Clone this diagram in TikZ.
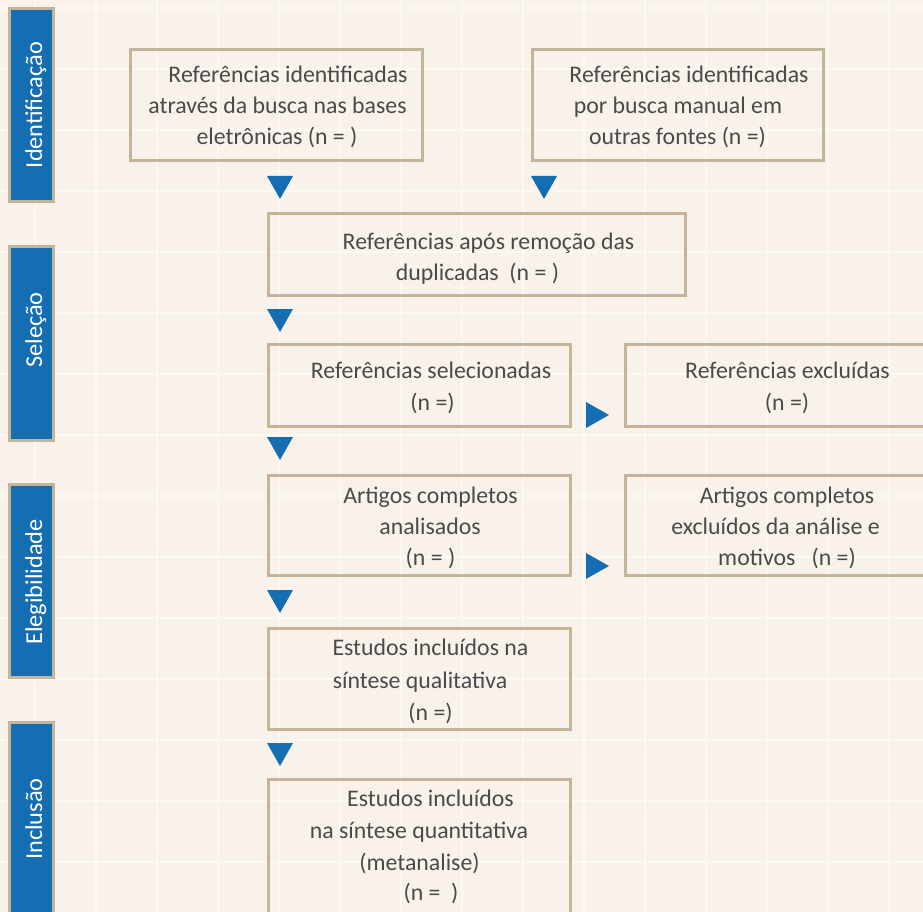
\documentclass[tikz,border=0pt]{standalone}
\usepackage{fontspec}
\setmainfont{Carlito}
\definecolor{bgc}{HTML}{F8F2EB}
\definecolor{gridc}{HTML}{FCF9F5}
\definecolor{tanc}{HTML}{C4B59A}
\definecolor{bluec}{HTML}{166EB2}
\definecolor{txtc}{HTML}{4A4A4A}
\tikzset{
  boxnode/.style={draw=tanc, line width=3pt, rectangle, inner sep=0pt},
  sidebar/.style={draw=tanc, fill=bluec, line width=3pt, rectangle, inner sep=0pt, minimum width=44pt},
  sidelabel/.style={anchor=base, rotate=90, inner sep=0pt, text=white, font=\fontsize{24.3}{28}\selectfont},
  line/.style={anchor=base, inner sep=0pt, text=txtc, font=\fontsize{23.8}{28}\selectfont},
  gridline/.style={draw=gridc, line width=2pt},
  tri/.style={fill=bluec},
}
\begin{document}
\begin{tikzpicture}[x=1pt,y=-1pt]
\useasboundingbox (0,0) rectangle (923,912);
\clip (0,0) rectangle (923,912);
\fill[bgc] (0,0) rectangle (923,912);
% grid
\foreach \gx in {35,96,...,923} \draw[gridline] (\gx,0) -- (\gx,912);
\foreach \gy in {8,69,...,912} \draw[gridline] (0,\gy) -- (923,\gy);

% side bars
\node[sidebar, minimum height=193pt] (s1) at (31.5,105) {};
\node[sidebar, minimum height=194pt] (s2) at (31.5,343.5) {};
\node[sidebar, minimum height=193pt] (s3) at (31.5,581) {};
\node[sidebar, minimum height=276pt] (s4) at (31.5,860.5) {};
\node[sidelabel] (l1) at (42,105) {Identificação};
\node[sidelabel] (l2) at (42,330) {Seleção};
\node[sidelabel] (l3) at (42,582) {Elegibilidade};
\node[sidelabel] (l4) at (42,819) {Inclusão};

% boxes
\node[boxnode, minimum width=292pt, minimum height=111pt] (b1) at (276.5,105) {};
\node[boxnode, minimum width=291pt, minimum height=111pt] (b2) at (678,105) {};
\node[boxnode, minimum width=417pt, minimum height=82pt] (b3) at (477,254.5) {};
\node[boxnode, minimum width=302pt, minimum height=82pt] (b4) at (419.5,385.5) {};
\node[boxnode, minimum width=373pt, minimum height=82pt] (b5) at (812,385.5) {};
\node[boxnode, minimum width=302pt, minimum height=100pt] (b6) at (419.5,525.5) {};
\node[boxnode, minimum width=373pt, minimum height=100pt] (b7) at (812,525.5) {};
\node[boxnode, minimum width=302pt, minimum height=101pt] (b8) at (419.5,679) {};
\node[boxnode, minimum width=302pt, minimum height=219pt] (b9) at (419.5,889) {};

% texts
\node[line] (b1a) at (288,82.5) {Referências identificadas};
\node[line] (b1b) at (277.5,114) {através da busca nas bases};
\node[line] (b1c) at (277,145) {eletrônicas (n = )};

\node[line] (b2a) at (689,82.5) {Referências identificadas};
\node[line] (b2b) at (678,114) {por busca manual em};
\node[line] (b2c) at (677.5,145) {outras fontes (n =)};

\node[line] (b3a) at (488.5,249) {Referências após remoção das};
\node[line] (b3b) at (477.5,280) {duplicadas\ \ (n = )};

\node[line] (b4a) at (431,378) {Referências selecionadas};
\node[line] (b4b) at (432.5,410) {(n =)};

\node[line] (b5a) at (787.5,378) {Referências excluídas};
\node[line] (b5b) at (787,410) {(n =)};

\node[line] (b6a) at (430.5,503) {Artigos completos};
\node[line] (b6b) at (430,534) {analisados};
\node[line] (b6c) at (430.5,565) {(n = )};

\node[line] (b7a) at (787,503) {Artigos completos};
\node[line] (b7b) at (775.5,534) {excluídos da análise e};
\node[line] (b7c) at (787,565) {motivos\ \ \ (n =)};

\node[line] (b8a) at (430.5,655) {Estudos incluídos na};
\node[line] (b8b) at (420,688) {síntese qualitativa};
\node[line] (b8c) at (430.5,720) {(n =)};

\node[line] (b9a) at (430.5,806) {Estudos incluídos};
\node[line] (b9b) at (419,838) {na síntese quantitativa};
\node[line] (b9c) at (419.5,870) {(metanalise)};
\node[line] (b9d) at (431,900) {(n =\ \ )};

% triangles
\coordinate (t1) at (280,176);
\coordinate (t2) at (544,176);
\coordinate (t3) at (280,309);
\coordinate (t4) at (280,437);
\coordinate (t5) at (280,590);
\coordinate (t6) at (280,743);
\foreach \t in {t1,t2,t3,t4,t5,t6}
  \fill[tri] (\t) ++(-13,0) -- ++(26,0) -- ++(-13,23) -- cycle;
\coordinate (r1) at (586,402);
\coordinate (r2) at (586,553);
\foreach \r in {r1,r2}
  \fill[tri] (\r) -- ++(0,26) -- ++(23,-13) -- cycle;
\end{tikzpicture}
\end{document}
